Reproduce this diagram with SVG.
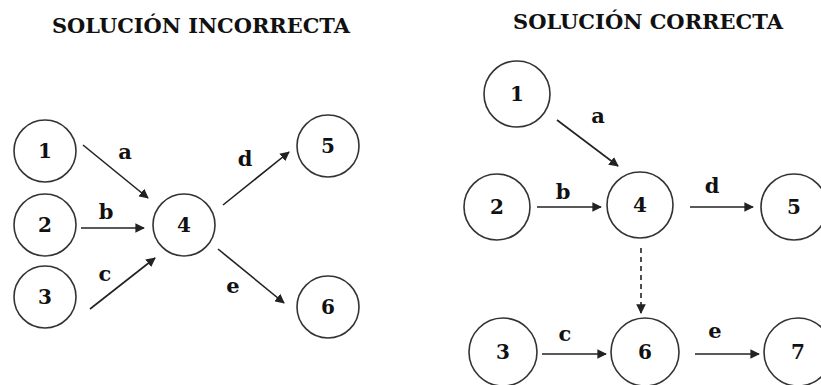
<svg xmlns="http://www.w3.org/2000/svg" width="821" height="385" viewBox="0 0 821 385">
  <style>
    .title { font-family: "DejaVu Serif", "Liberation Serif", serif; font-weight: bold; font-size: 21px; fill: #111; text-anchor: middle; }
    .node circle { fill: #fff; stroke: #333; stroke-width: 1.6; }
    .node text { font-family: "DejaVu Serif", "Liberation Serif", serif; font-weight: bold; font-size: 20px; fill: #111; text-anchor: middle; }
    .edge { stroke: #222; stroke-width: 1.6; fill: none; marker-end: url(#arrow); }
    .dashed { stroke-dasharray: 5 4; }
    .lbl { font-family: "DejaVu Serif", "Liberation Serif", serif; font-weight: bold; font-size: 21px; fill: #111; text-anchor: middle; }
  </style>
  <defs>
    <marker id="arrow" viewBox="0 0 10 10" refX="9" refY="5" markerWidth="6" markerHeight="6" orient="auto" markerUnits="strokeWidth">
      <path d="M0,0 L10,5 L0,10 z" fill="#222"/>
    </marker>
  </defs>
  <rect width="821" height="385" fill="#fff"/>

  <text class="title" x="201" y="33" textLength="298" lengthAdjust="spacingAndGlyphs">SOLUCIÓN INCORRECTA</text>
  <text class="title" x="648" y="29" textLength="270" lengthAdjust="spacingAndGlyphs">SOLUCIÓN CORRECTA</text>

  <!-- incorrect network -->
  <g id="L1" class="node"><circle cx="45" cy="151" r="31"/><text x="45" y="158">1</text></g>
  <g id="L2" class="node"><circle cx="45" cy="225" r="31"/><text x="45" y="232">2</text></g>
  <g id="L3" class="node"><circle cx="45" cy="297" r="31"/><text x="45" y="304">3</text></g>
  <g id="L4" class="node"><circle cx="184" cy="225" r="31"/><text x="184" y="232">4</text></g>
  <g id="L5" class="node"><circle cx="328" cy="146" r="31"/><text x="328" y="153">5</text></g>
  <g id="L6" class="node"><circle cx="328" cy="307" r="31"/><text x="328" y="314">6</text></g>

  <!-- correct network -->
  <g id="R1" class="node"><circle cx="517" cy="94" r="33"/><text x="517" y="101">1</text></g>
  <g id="R2" class="node"><circle cx="497" cy="207" r="33"/><text x="497" y="214">2</text></g>
  <g id="R4" class="node"><circle cx="640" cy="205" r="33"/><text x="640" y="212">4</text></g>
  <g id="R5" class="node"><circle cx="794" cy="207" r="33"/><text x="794" y="214">5</text></g>
  <g id="R3" class="node"><circle cx="503" cy="352" r="34"/><text x="503" y="359">3</text></g>
  <g id="R6" class="node"><circle cx="645" cy="352" r="34"/><text x="645" y="359">6</text></g>
  <g id="R7" class="node"><circle cx="798" cy="352" r="34"/><text x="798" y="359">7</text></g>

  <g id="connectors">
    <line class="edge" x1="83" y1="145" x2="148" y2="198"/>
    <line class="edge" x1="81" y1="228" x2="144" y2="228"/>
    <line class="edge" x1="90" y1="309" x2="155" y2="258"/>
    <line class="edge" x1="223" y1="205" x2="289" y2="152"/>
    <line class="edge" x1="218" y1="249" x2="284" y2="303"/>

    <line class="edge" x1="557" y1="120" x2="618" y2="166"/>
    <line class="edge" x1="537" y1="207" x2="601" y2="207"/>
    <line class="edge" x1="690" y1="207" x2="753" y2="207"/>
    <line class="edge dashed" x1="641" y1="248" x2="641" y2="313"/>
    <line class="edge" x1="542" y1="354" x2="606" y2="354"/>
    <line class="edge" x1="695" y1="354" x2="759" y2="354"/>
  </g>

  <g id="labels">
    <text class="lbl" x="125" y="159">a</text>
    <text class="lbl" x="106" y="219">b</text>
    <text class="lbl" x="105" y="281">c</text>
    <text class="lbl" x="245" y="166">d</text>
    <text class="lbl" x="233" y="293">e</text>

    <text class="lbl" x="598" y="123">a</text>
    <text class="lbl" x="563" y="199">b</text>
    <text class="lbl" x="712" y="193">d</text>
    <text class="lbl" x="565" y="341">c</text>
    <text class="lbl" x="715" y="338">e</text>
  </g>
</svg>
